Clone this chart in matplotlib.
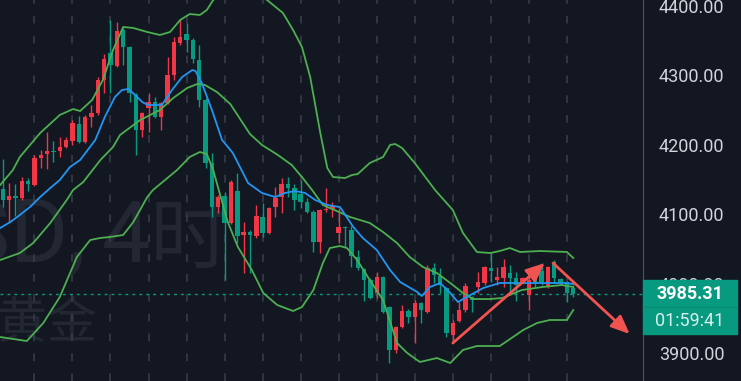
import numpy as np
import matplotlib.pyplot as plt
from matplotlib.patches import Rectangle

# XAUUSD 4h candles, oldest first (red = up, green = down)
opens = [4136.3, 4120.4, 4126.2, 4123.3, 4147.8, 4142.0, 4180.9, 4186.7, 4191.0, 4191.0,
         4196.8, 4205.4, 4229.9, 4204.0, 4240.0, 4245.8, 4293.3, 4332.2, 4313.5, 4365.4,
         4340.9, 4271.7, 4221.3, 4253.0, 4261.6, 4240.0, 4260.2, 4300.5, 4346.6, 4359.6,
         4351.0, 4322.1, 4264.5, 4173.7, 4110.3, 4126.2, 4087.3, 4133.4, 4070.0, 4074.3,
         4068.5, 4095.9, 4072.9, 4110.3, 4124.7, 4143.5, 4137.7, 4129.1, 4117.5, 4103.1,
         4059.9, 4106.0, 4107.4, 4072.9, 4081.5, 4077.2, 4038.3, 4021.0, 4005.1, 3986.4,
         4009.4, 3966.2, 3904.3, 3937.4, 3960.5, 3951.8, 3972.0, 3959.0, 4022.4, 4010.9,
         3993.6, 3925.9, 3946.1, 3961.9, 3980.6, 3995.0, 4000.8, 4022.4, 4005.1, 4008.0,
         4015.2, 4008.0, 4002.2, 3983.5, 4017.9, 4017.9, 3995.0, 4031.1, 4006.6, 4002.2,
         3993.6]
highs = [4179.5, 4144.9, 4143.5, 4153.5, 4152.1, 4185.3, 4192.5, 4218.4, 4205.4, 4211.2,
         4211.2, 4235.7, 4241.4, 4242.9, 4257.3, 4297.6, 4330.8, 4379.8, 4376.9, 4368.3,
         4342.3, 4274.6, 4247.2, 4274.6, 4268.8, 4261.6, 4326.5, 4355.3, 4381.2, 4375.5,
         4353.8, 4343.8, 4267.4, 4188.1, 4127.6, 4131.9, 4149.2, 4159.3, 4088.7, 4077.2,
         4113.2, 4116.1, 4110.3, 4139.1, 4152.1, 4153.5, 4143.5, 4149.2, 4123.3, 4106.0,
         4107.4, 4137.7, 4117.5, 4108.9, 4083.0, 4083.0, 4048.4, 4022.4, 4008.0, 4016.6,
         4010.9, 3967.7, 3938.9, 3969.1, 3963.3, 3976.3, 3973.4, 4026.7, 4029.6, 4022.4,
         3995.0, 3947.5, 3973.4, 4000.8, 3982.1, 4016.6, 4025.3, 4044.0, 4023.8, 4035.4,
         4026.7, 4016.6, 4009.4, 4016.6, 4022.4, 4029.6, 4025.3, 4034.0, 4008.0, 4003.7,
         3997.9]
lows = [4110.3, 4088.7, 4097.4, 4120.4, 4133.4, 4140.6, 4166.5, 4165.1, 4175.2, 4182.4,
        4195.3, 4199.7, 4202.5, 4202.5, 4225.6, 4242.9, 4274.6, 4274.6, 4312.1, 4314.9,
        4261.6, 4185.3, 4211.2, 4218.4, 4238.6, 4221.3, 4258.7, 4293.3, 4343.8, 4333.7,
        4317.8, 4254.4, 4166.5, 4095.9, 4101.7, 4005.1, 4085.8, 4058.4, 4015.2, 4015.2,
        4065.7, 4067.1, 4071.4, 4095.9, 4101.7, 4124.7, 4106.0, 4108.9, 4101.7, 4045.5,
        4044.0, 4103.1, 4095.9, 4058.4, 4052.7, 4024.0, 4019.5, 3974.8, 3977.8, 3979.2,
        3957.6, 3885.5, 3900.0, 3936.0, 3943.2, 3914.4, 3943.2, 3957.6, 4000.8, 3986.4,
        3923.0, 3915.8, 3944.6, 3959.0, 3959.0, 3986.4, 3997.9, 4002.2, 3997.9, 3995.0,
        3983.5, 3974.8, 4000.8, 3961.9, 3995.0, 3997.9, 3993.6, 4000.8, 3997.9, 3973.4,
        3980.6]
closes = [4120.4, 4126.2, 4123.3, 4147.8, 4143.5, 4180.9, 4185.3, 4191.0, 4189.6, 4196.8,
          4206.9, 4231.4, 4204.0, 4240.0, 4245.8, 4293.3, 4323.6, 4314.9, 4363.9, 4340.9,
          4274.6, 4221.3, 4245.8, 4261.6, 4240.0, 4260.2, 4300.5, 4348.1, 4355.3, 4351.0,
          4323.6, 4264.5, 4173.7, 4110.3, 4124.7, 4087.3, 4146.3, 4068.5, 4074.3, 4070.0,
          4097.4, 4072.9, 4108.9, 4123.3, 4143.5, 4137.7, 4120.4, 4117.5, 4103.1, 4059.9,
          4106.0, 4107.4, 4111.8, 4081.5, 4080.1, 4039.7, 4022.4, 4005.1, 3979.2, 4009.4,
          3959.0, 3904.3, 3937.4, 3960.5, 3951.8, 3972.0, 3961.9, 4022.4, 4012.3, 3997.9,
          3928.8, 3943.2, 3961.9, 3996.5, 3976.3, 4002.2, 4023.8, 4018.1, 4009.4, 4023.8,
          4008.0, 3997.9, 4008.0, 4005.1, 4001.8, 4001.8, 4023.8, 4008.0, 4000.8, 3986.4,
          3985.31]

# indicator lines (bar position, price)
upper_x = [-0.4, 1.6, 2.7, 5.9, 9.0, 11.1, 12.2, 14.1, 15.8, 17.4, 19.0, 20.6, 22.8, 24.8,
           26.4, 28.0, 29.5, 31.1, 32.2, 33.2, 37.4, 41.7, 44.2, 45.8, 47.2, 48.5, 50.1,
           51.2, 52.1, 54.0, 55.1, 56.0, 57.9, 60.0, 61.1, 61.9, 63.0, 65.0, 68.2, 71.0,
           72.6, 74.8, 76.9, 78.4, 80.0, 81.6, 84.8, 89.0, 90.0]
upper_y = [4142.0, 4163.6, 4182.4, 4216.9, 4242.9, 4251.5, 4248.6, 4264.5, 4293.3, 4336.6,
           4369.7, 4368.3, 4362.5, 4358.2, 4362.5, 4379.8, 4388.4, 4387.0, 4394.2, 4408.6,
           4431.7, 4408.6, 4389.9, 4365.4, 4340.9, 4297.6, 4216.9, 4166.5, 4153.5, 4152.1,
           4156.4, 4157.9, 4173.7, 4182.4, 4199.7, 4201.1, 4195.3, 4173.7, 4134.8, 4106.0,
           4072.9, 4045.5, 4044.0, 4046.9, 4051.2, 4045.5, 4046.9, 4045.5, 4036.8]
mid_x = [-0.4, 2.7, 4.8, 7.5, 10.1, 11.1, 12.7, 15.4, 17.4, 18.5, 21.7, 24.8, 26.9, 29.1,
         30.7, 31.9, 33.8, 35.9, 39.0, 40.9, 43.4, 45.6, 47.2, 48.8, 50.5, 52.7, 54.8, 57.9,
         60.0, 62.2, 64.2, 66.3, 68.5, 70.6, 72.6, 74.2, 76.9, 78.8, 81.9, 85.1, 88.2, 90.0]
mid_y = [4034.0, 4044.0, 4058.4, 4087.3, 4120.4, 4134.8, 4146.3, 4178.0, 4196.8, 4214.1,
         4235.7, 4250.1, 4267.4, 4281.8, 4287.6, 4286.1, 4276.0, 4258.7, 4215.5, 4199.7,
         4185.3, 4170.8, 4153.5, 4134.8, 4113.2, 4104.5, 4095.9, 4087.3, 4074.3, 4058.4,
         4038.3, 4023.8, 4015.2, 4000.8, 3986.4, 3977.7, 3977.7, 3979.2, 3990.7, 3995.0,
         3997.9, 3995.0]
lower_x = [-0.4, 3.8, 6.4, 9.0, 11.7, 13.8, 15.4, 16.9, 19.0, 20.6, 22.8, 23.7, 27.5, 29.5,
           31.1, 32.2, 33.2, 34.3, 35.5, 37.1, 39.3, 41.1, 43.3, 45.8, 47.2, 49.0, 50.5,
           51.6, 53.2, 54.3, 55.9, 57.9, 60.0, 62.2, 63.8, 65.8, 68.5, 70.6, 72.6, 74.8,
           78.4, 80.5, 82.1, 84.3, 86.3, 89.0, 90.0]
lower_y = [3923.0, 3917.2, 3943.2, 3980.6, 4038.3, 4062.8, 4065.7, 4067.1, 4070.0, 4088.7,
           4124.7, 4134.8, 4163.6, 4182.4, 4189.6, 4186.7, 4163.6, 4127.6, 4088.7, 4052.7,
           4019.5, 3986.4, 3969.1, 3960.5, 3966.2, 3990.7, 4029.6, 4051.2, 4054.1, 4051.2,
           4034.0, 4005.1, 3976.3, 3914.4, 3900.0, 3887.0, 3892.7, 3885.5, 3904.3, 3910.0,
           3910.0, 3923.0, 3933.1, 3943.2, 3947.5, 3947.5, 3961.9]
ma_x = [-0.4, 1.2, 2.7, 4.3, 5.9, 7.5, 9.0, 10.6, 12.2, 14.6, 16.1, 17.7, 18.8, 19.8, 20.9,
        22.0, 22.9, 25.1, 26.7, 28.3, 29.9, 30.4, 31.4, 33.0, 34.6, 36.3, 38.7, 40.9, 43.0,
        44.5, 46.1, 47.7, 49.3, 51.2, 53.2, 55.3, 56.8, 59.0, 61.1, 62.7, 65.4, 66.1, 67.4,
        69.0, 70.6, 71.8, 73.2, 75.8, 78.4, 84.0, 88.7, 90.0]
ma_y = [4080.1, 4088.7, 4098.8, 4110.3, 4124.7, 4137.7, 4149.2, 4167.9, 4178.0, 4206.9,
        4240.0, 4268.8, 4278.9, 4280.4, 4271.7, 4261.6, 4257.3, 4257.3, 4278.9, 4297.6,
        4307.7, 4306.3, 4289.0, 4250.1, 4206.9, 4188.1, 4144.9, 4130.5, 4124.7, 4130.5,
        4133.4, 4130.5, 4120.4, 4113.2, 4110.3, 4081.5, 4065.7, 4048.4, 4019.5, 4002.2,
        3987.8, 3982.1, 3995.0, 4000.8, 3986.4, 3973.4, 3980.6, 3993.6, 4000.8, 4000.8,
        4000.8, 3999.4]

# hand drawn arrows (bar position, price)
arrow_up = ((71.0, 3914.3), (85.5, 4029.6))
arrow_down = ((86.8, 4029.6), (98.9, 3927.3))

price_ticks = [3900, 4000, 4100, 4200, 4300, 4400]
countdown = '01:59:41'

BG = '#131722'
UP = '#f23645'
DOWN = '#089981'

plt.rcParams['font.family'] = ['Roboto', 'Noto Sans CJK SC', 'DejaVu Sans']

fig = plt.figure(figsize=(7.41, 3.81), dpi=100, facecolor=BG)
ax = fig.add_axes([0, 0, 643 / 741, 1])
ax.set_facecolor(BG)
ymin, ymax = 3859.6, 4408.6
ax.set_xlim(-0.43, 101.0)
ax.set_ylim(ymin, ymax)

# watermark (symbol and interval, then the name)
wm = '#232733'
base = 1 - 262 / 381
ax.text(86 / 643, base, 'XAUUSD,', transform=ax.transAxes, ha='right', va='baseline',
        fontsize=64, color=wm, zorder=0.5)
ax.text(102 / 643, base, '4', transform=ax.transAxes, ha='left', va='baseline',
        fontsize=62, color=wm, zorder=0.5)
ax.text(150 / 643, base, '时', transform=ax.transAxes, ha='left', va='baseline',
        fontsize=57, color=wm, family=['Noto Sans CJK SC'], zorder=0.5)
ax.text(98 / 643, 1 - 324 / 381, '现货黄金', transform=ax.transAxes, ha='right',
        va='center', fontsize=36, color=wm, family=['Noto Sans CJK SC'], zorder=0.5)

# daily grid
ax.set_xticks(np.arange(5, 91, 6))
ax.grid(axis='x', color='#3b3f4b', lw=1.1, ls=(0, (5, 8)))
ax.set_axisbelow(True)

# candles
x = np.arange(len(opens))
o = np.array(opens)
c = np.array(closes)
cols = [UP if cc >= oo else DOWN for oo, cc in zip(o, c)]
ax.vlines(x, lows, highs, colors=cols, lw=1, zorder=2)
ax.bar(x, np.maximum(np.abs(c - o), 0.8), bottom=np.minimum(o, c), width=0.7,
       color=cols, zorder=3)

# bands and average
for bx_, by_ in ((upper_x, upper_y), (mid_x, mid_y), (lower_x, lower_y)):
    ax.plot(bx_, by_, color='#4caf50', lw=1.3, zorder=4)
ax.plot(ma_x, ma_y, color='#2196f3', lw=1.3, zorder=4)

# last price line
ax.axhline(closes[-1], color=DOWN, lw=1, ls=(0, (2, 3)), zorder=1.5)

for start, end in (arrow_up, arrow_down):
    ax.annotate('', xy=end, xytext=start,
                arrowprops=dict(arrowstyle='-|>,head_length=0.7,head_width=0.3',
                                color='#f05350', lw=2, mutation_scale=16,
                                shrinkA=0, shrinkB=0), zorder=6)

# price scale
for s in ('top', 'left', 'bottom'):
    ax.spines[s].set_visible(False)
ax.spines['right'].set_color('#50535e')
ax.set_yticks(price_ticks)
ax.set_yticklabels([f'{p:.2f}' for p in price_ticks])
ax.tick_params(axis='y', left=False, labelleft=False, right=True, labelright=True,
               length=0, pad=11.5, labelsize=13, labelcolor='#d1d4dc')
ax.tick_params(axis='x', bottom=False, labelbottom=False)

# last price badge
yf = (closes[-1] - ymin) / (ymax - ymin)
bx, bw = 643 / 741, 94 / 741
fig.patches.append(Rectangle((bx, yf - 40.5 / 381), bw, 54 / 381, transform=fig.transFigure,
                             color=DOWN, zorder=5))
fig.lines.append(plt.Line2D([bx, bx + bw], [yf - 13.5 / 381] * 2, transform=fig.transFigure,
                            color='#0b8a72', lw=1, zorder=5.5))
fig.text(690 / 741, yf, f'{closes[-1]:.2f}', ha='center', va='center', color='white',
         fontsize=13, fontweight='bold', zorder=6)
fig.text(690 / 741, yf - 27 / 381, countdown, ha='center', va='center', color='#d6f0ea',
         fontsize=13, zorder=6)

fig.savefig('out.png', dpi=100, facecolor=BG)
